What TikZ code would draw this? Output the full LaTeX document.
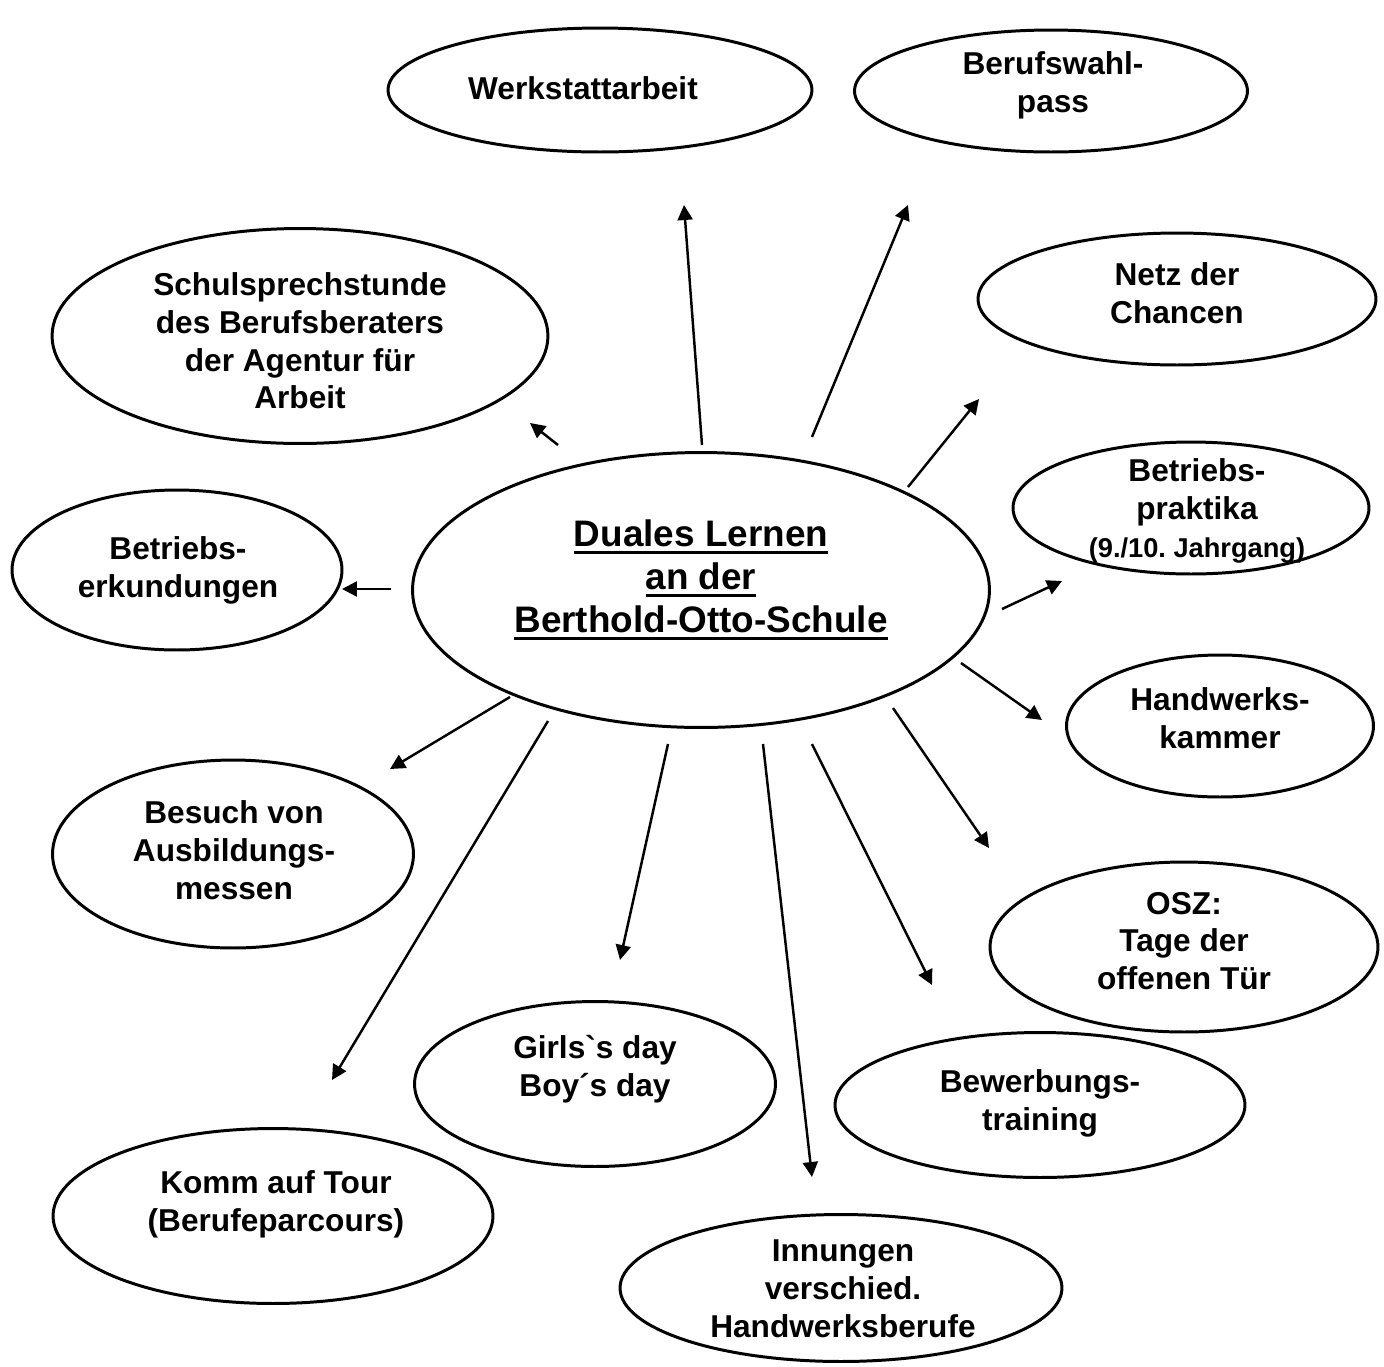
\documentclass[tikz,border=0pt]{standalone}
\usepackage{fontspec}
\setmainfont{Liberation Sans}
\usetikzlibrary{arrows.meta,shapes.geometric}
\frenchspacing
\newcommand{\titleul}[1]{\setbox0\hbox{#1}\rlap{\rule[-4.6pt]{\wd0}{1.7pt}}\box0}

\begin{document}
\begin{tikzpicture}[x=0.02cm,y=-0.02cm,>={Triangle[length=3mm,width=3mm]}]
\tikzset{blob/.style={draw,ellipse,line width=1.7pt,inner sep=0pt},txt/.style={font=\fontsize{18}{21.5}\selectfont\bfseries,align=center,inner sep=0pt},arr/.style={->,line width=1.4pt}}
\useasboundingbox (0,0) rectangle (1384,1367);
% ellipses
\node[blob,minimum width=11.54cm,minimum height=5.5cm] (hub) at (701,590) {};
\node[blob,minimum width=8.48cm,minimum height=2.48cm] (werk) at (600,90) {};
\node[blob,minimum width=7.86cm,minimum height=2.44cm] (pass) at (1051,91) {};
\node[blob,minimum width=7.96cm,minimum height=2.64cm] (netz) at (1177,299) {};
\node[blob,minimum width=9.92cm,minimum height=4.3cm] (schul) at (300,336) {};
\node[blob,minimum width=7.12cm,minimum height=2.64cm] (prakt) at (1191,508) {};
\node[blob,minimum width=6.6cm,minimum height=3.2cm] (erk) at (177,570) {};
\node[blob,minimum width=6.14cm,minimum height=2.84cm] (hwk) at (1220,726) {};
\node[blob,minimum width=7.22cm,minimum height=3.76cm] (messe) at (233,854) {};
\node[blob,minimum width=7.76cm,minimum height=3.4cm] (osz) at (1184,947) {};
\node[blob,minimum width=7.22cm,minimum height=3.3cm] (girls) at (595,1084) {};
\node[blob,minimum width=8.2cm,minimum height=2.9cm] (bewerb) at (1040,1105) {};
\node[blob,minimum width=8.8cm,minimum height=3.5cm] (tour) at (273,1216) {};
\node[blob,minimum width=8.84cm,minimum height=2.94cm] (innung) at (841,1288) {};
% texts
\node[txt,font=\fontsize{21}{24.5}\selectfont\bfseries] (hub-t) at (701,580) {\titleul{Duales Lernen}\\\titleul{an der}\\\titleul{Berthold-Otto-Schule}};
\node[txt] (werk-t) at (583,88) {Werkstattarbeit};
\node[txt] (pass-t) at (1053,85) {Berufswahl-\\pass};
\node[txt] (netz-t) at (1177,293) {Netz der\\Chancen};
\node[txt] (schul-t) at (300,341) {Schulsprechstunde\\des Berufsberaters\\der Agentur für\\Arbeit};
\node[txt] (prakt-t) at (1197,511) {Betriebs-\\praktika\\{\fontsize{15.5}{18}\selectfont (9./10. Jahrgang)}};
\node[txt] (erk-t) at (178,570) {Betriebs-\\erkundungen};
\node[txt] (hwk-t) at (1220,718) {Handwerks-\\kammer};
\node[txt] (messe-t) at (234,850) {Besuch von\\Ausbildungs-\\messen};
\node[txt] (osz-t) at (1184,941) {OSZ:\\Tage der\\offenen Tür};
\node[txt] (girls-t) at (595,1069) {Girls\textasciigrave s day\\Boy´s day};
\node[txt] (bewerb-t) at (1040,1103) {Bewerbungs-\\training};
\node[txt] (tour-t) at (276,1204) {Komm auf Tour\\(Berufeparcours)};
\node[txt] (innung-t) at (843,1289) {Innungen\\verschied.\\Handwerksberufe};
% arrow ends
\coordinate (werk-from) at (702,445);   \coordinate (werk-to) at (684,205);
\coordinate (pass-from) at (812,437);   \coordinate (pass-to) at (908,205);
\coordinate (netz-from) at (908,487);   \coordinate (netz-to) at (979,399);
\coordinate (schul-from) at (558,445);  \coordinate (schul-to) at (530,423);
\coordinate (prakt-from) at (1002,609); \coordinate (prakt-to) at (1062,581);
\coordinate (erk-from) at (391,589);    \coordinate (erk-to) at (342,589);
\coordinate (hwk-from) at (961,663);    \coordinate (hwk-to) at (1042,720);
\coordinate (messe-from) at (510,697);  \coordinate (messe-to) at (390,769);
\coordinate (osz-from) at (893,708);    \coordinate (osz-to) at (989,848);
\coordinate (girls-from) at (668,744);  \coordinate (girls-to) at (620,960);
\coordinate (bewerb-from) at (812,744); \coordinate (bewerb-to) at (932,985);
\coordinate (tour-from) at (548,721);   \coordinate (tour-to) at (332,1080);
\coordinate (innung-from) at (763,744); \coordinate (innung-to) at (812,1177);
\foreach \n in {werk,pass,netz,schul,prakt,erk,hwk,messe,osz,girls,bewerb,tour,innung}
  \draw[arr] (\n-from) -- (\n-to);
\end{tikzpicture}
\end{document}
